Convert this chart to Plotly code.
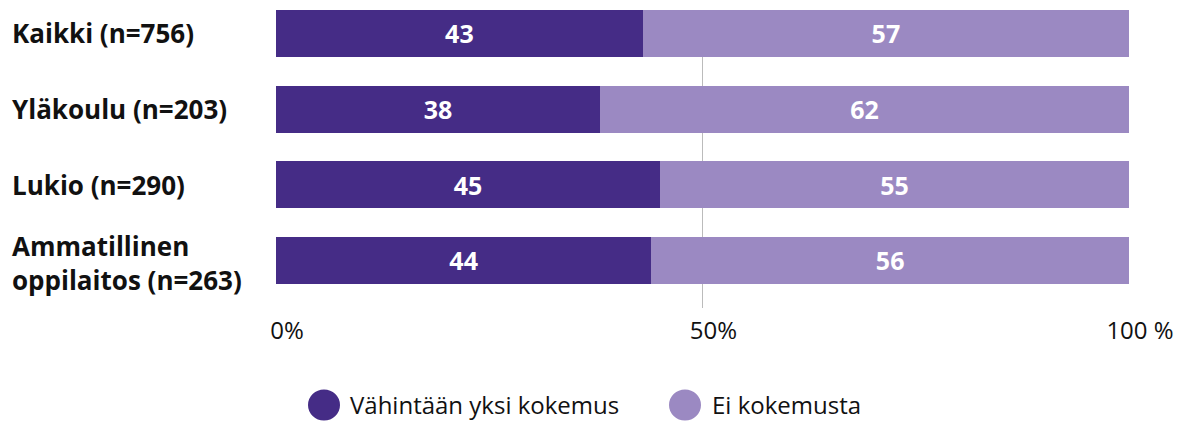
import plotly.graph_objects as go

categories = ["Kaikki (n=756)", "Yläkoulu (n=203)", "Lukio (n=290)", "Ammatillinen<br>oppilaitos (n=263)"]
vahintaan = [43, 38, 45, 44]
ei_kokemusta = [57, 62, 55, 56]
series_names = ["Vähintään yksi kokemus", "Ei kokemusta"]
tick_vals = [0, 50, 100]
tick_text = ["0%", "50%", "100 %"]

DARK = "#452C86"
LIGHT = "#9B89C2"
FONT = "Open Sans"

OFF = 8  # page body margin
W, H = 1185 - OFF, 421 - OFF
PL, PR, PT, PB = 276, 1129, 10, 308  # plot area in page pixels
L, T = PL - OFF, PT - OFF
R = W - (PR - OFF)
B = H - (PB - OFF)
pw, ph = PR - PL, PB - PT

def px_x(px):
    return (px - PL) / pw

def px_y(py):
    return (PB - py) / ph

fig = go.Figure()
for name, vals, col in [(series_names[0], vahintaan, DARK), (series_names[1], ei_kokemusta, LIGHT)]:
    fig.add_trace(go.Bar(
        y=categories, x=vals, name=name, orientation="h",
        marker=dict(color=col, line=dict(width=0)),
        text=[str(v) for v in vals], textposition="inside",
        insidetextanchor="middle",
        textfont=dict(family=FONT, size=25, color="white", weight="bold"),
        showlegend=False, hoverinfo="skip",
    ))

annotations = []
for c in categories:
    annotations.append(dict(
        x=px_x(10), xref="paper", y=c, yref="y", text="<b>" + c + "</b>",
        xanchor="left", yanchor="middle", align="left", showarrow=False,
        font=dict(family=FONT, size=26, color="#111111"),
        yshift=-3 if "<br>" in c else 0,
    ))

shapes = []
legend_items = [(324, 348, series_names[0], DARK), (685, 710, series_names[1], LIGHT)]
for cx, tx, name, col in legend_items:
    shapes.append(dict(
        type="circle", xref="paper", yref="paper",
        xsizemode="pixel", ysizemode="pixel",
        xanchor=px_x(cx), yanchor=px_y(405),
        x0=-16, x1=16, y0=-15.5, y1=15.5,
        fillcolor=col, line=dict(width=0),
    ))
    annotations.append(dict(
        x=px_x(tx), xref="paper", y=px_y(404), yref="paper", text=name,
        xanchor="left", yanchor="middle", showarrow=False,
        font=dict(family=FONT, size=24, color="#111111"),
    ))

fig.update_layout(
    barmode="stack", bargap=0.38,
    width=W, height=H,
    margin=dict(l=L, r=R, t=T, b=B, pad=0),
    paper_bgcolor="white", plot_bgcolor="white",
    font=dict(family=FONT, size=24, color="#111111"),
    xaxis=dict(
        range=[0, 100], tickvals=tick_vals, ticktext=tick_text,
        showgrid=True, gridcolor="#BBBBBB", gridwidth=1,
        zeroline=False, showline=False, ticks="",
        tickfont=dict(family=FONT, size=24, color="#111111"),
        ticklabelstandoff=6, ticklabelshift=11,
        fixedrange=True,
    ),
    yaxis=dict(
        categoryorder="array", categoryarray=categories,
        range=[3.63, -0.31], showticklabels=False, showgrid=False,
        zeroline=False, ticks="", fixedrange=True,
    ),
    annotations=annotations, shapes=shapes,
    showlegend=False,
)

fig.write_html("out.html")
